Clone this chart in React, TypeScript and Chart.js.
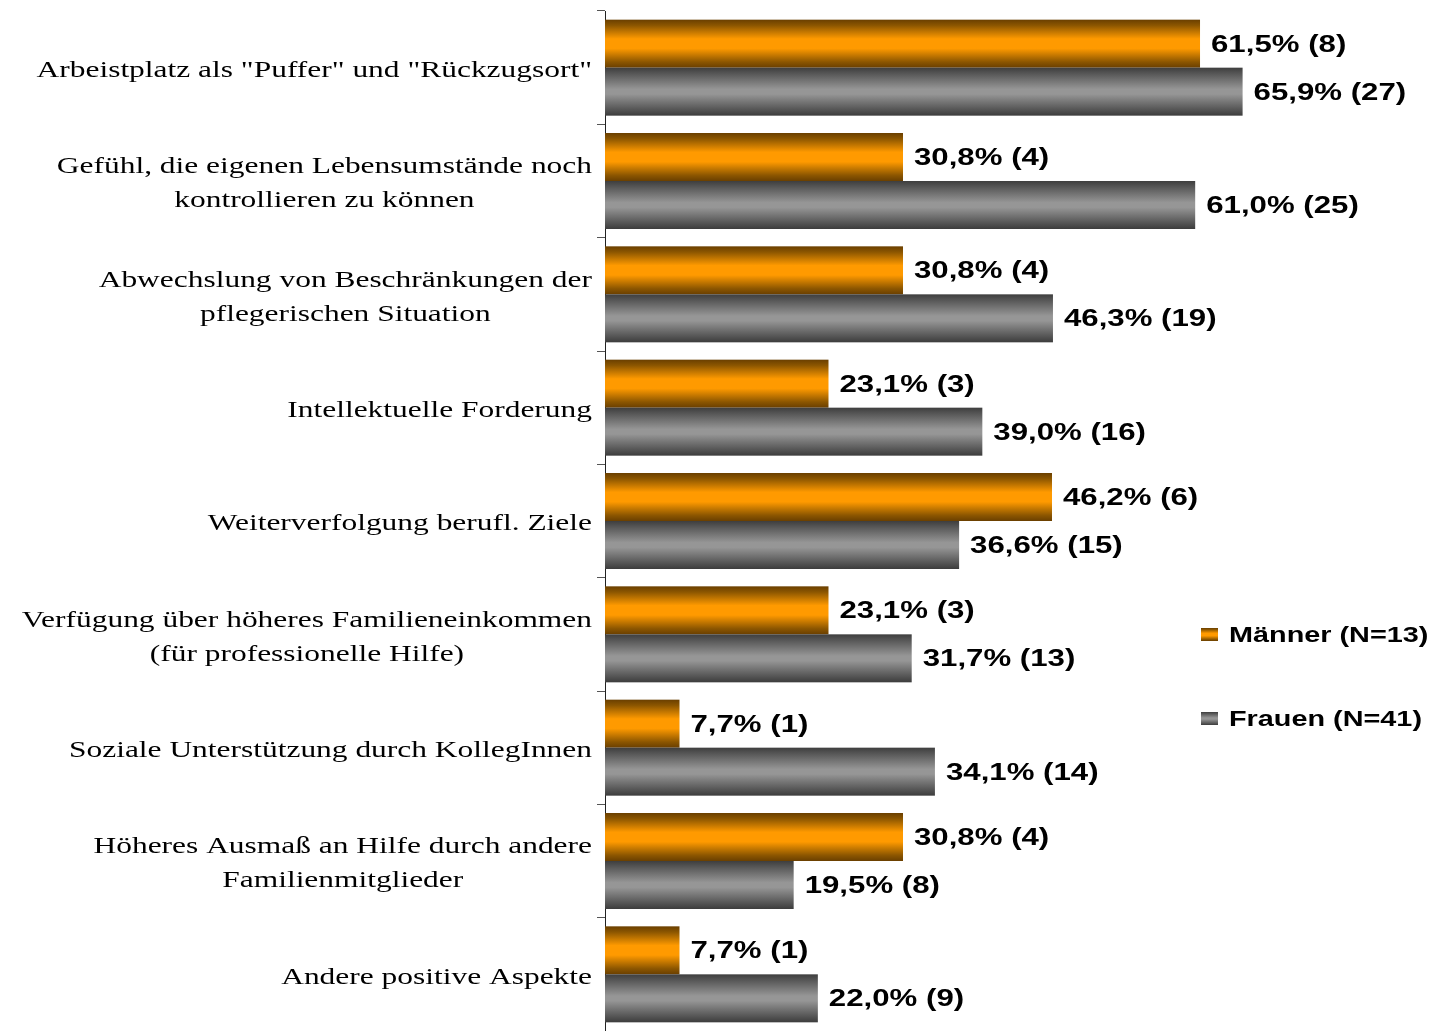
import React, { useEffect, useRef } from "react";
import { Chart, registerables } from "chart.js";

Chart.register(...registerables);

const categories: string[][] = [
  ['Arbeistplatz als "Puffer" und "Rückzugsort"'],
  ["Gefühl, die eigenen Lebensumstände noch", "kontrollieren zu können"],
  ["Abwechslung von Beschränkungen der", "pflegerischen Situation"],
  ["Intellektuelle Forderung"],
  ["Weiterverfolgung berufl. Ziele"],
  ["Verfügung über höheres Familieneinkommen", "(für professionelle Hilfe)"],
  ["Soziale Unterstützung durch KollegInnen"],
  ["Höheres Ausmaß an Hilfe durch andere", "Familienmitglieder"],
  ["Andere positive Aspekte"],
];

const seriesNames = ["Männer (N=13)", "Frauen (N=41)"];
const menPct = [61.5, 30.8, 30.8, 23.1, 46.2, 23.1, 7.7, 30.8, 7.7];
const menN = [8, 4, 4, 3, 6, 3, 1, 4, 1];
const womenPct = [65.9, 61.0, 46.3, 39.0, 36.6, 31.7, 34.1, 19.5, 22.0];
const womenN = [27, 25, 19, 16, 15, 13, 14, 8, 9];

const counts = [menN, womenN];

const fmt = (v: number, n: number) => v.toFixed(1).replace(".", ",") + "% (" + n + ")";

const W = 1433;
const H = 1031;
const LABEL_SX = 1.31;
const VALUE_SX = 1.3;

function makeGrad(ctx: CanvasRenderingContext2D, top: number, bottom: number, ds: number) {
  const g = ctx.createLinearGradient(0, top, 0, bottom);
  if (ds === 0) {
    g.addColorStop(0, "#6a3f00");
    g.addColorStop(0.12, "#8c5600");
    g.addColorStop(0.4, "#ff9a00");
    g.addColorStop(0.6, "#ff9a00");
    g.addColorStop(0.88, "#8c5600");
    g.addColorStop(1, "#6a3f00");
  } else {
    g.addColorStop(0, "#3e3e3e");
    g.addColorStop(0.15, "#5c5c5c");
    g.addColorStop(0.45, "#969696");
    g.addColorStop(0.55, "#969696");
    g.addColorStop(0.85, "#5a5a5a");
    g.addColorStop(1, "#3c3c3c");
  }
  return g;
}

const customDraw = {
  id: "customDraw",
  afterDatasetsDraw(chart: any) {
    const ctx: CanvasRenderingContext2D = chart.ctx;
    chart.data.datasets.forEach((_ds: any, di: number) => {
      const meta = chart.getDatasetMeta(di);
      meta.data.forEach((el: any, i: number) => {
        const p = el.getProps(["x", "y", "base", "height"], true);
        const top = p.y - p.height / 2;
        const bottom = p.y + p.height / 2;
        ctx.save();
        ctx.fillStyle = makeGrad(ctx, top, bottom, di);
        ctx.fillRect(p.base, top, p.x - p.base, p.height);
        ctx.restore();
        const v = chart.data.datasets[di].data[i];
        ctx.save();
        ctx.font = "bold 24px 'Liberation Sans', Arial, sans-serif";
        ctx.fillStyle = "#000";
        ctx.textBaseline = "middle";
        ctx.textAlign = "left";
        ctx.translate(p.x + 11, p.y + 1.5);
        ctx.scale(VALUE_SX, 1);
        ctx.fillText(fmt(v, counts[di][i]), 0, 0);
        ctx.restore();
      });
    });
  },
  afterDraw(chart: any) {
    const ctx: CanvasRenderingContext2D = chart.ctx;
    const yScale = chart.scales.y;
    ctx.save();
    ctx.font = "24px 'Liberation Serif', 'Times New Roman', serif";
    ctx.fillStyle = "#000";
    ctx.textBaseline = "middle";
    ctx.textAlign = "center";
    categories.forEach((lines, i) => {
      const yc = yScale.getPixelForValue(i);
      const widths = lines.map((l) => ctx.measureText(l).width * LABEL_SX);
      const bw = Math.max(...widths);
      const cx = 592 - bw / 2;
      const lh = 34;
      const start = yc - ((lines.length - 1) * lh) / 2 + 3;
      lines.forEach((l, k) => {
        ctx.save();
        ctx.translate(cx, start + k * lh);
        ctx.scale(LABEL_SX, 1);
        ctx.fillText(l, 0, 0);
        ctx.restore();
      });
    });
    ctx.restore();
    const legY = [634, 718];
    seriesNames.forEach((name, di) => {
      const y = legY[di];
      ctx.save();
      ctx.fillStyle = makeGrad(ctx, y - 6, y + 7, di);
      ctx.fillRect(1201, y - 6, 17, 13);
      ctx.font = "bold 22px 'Liberation Sans', Arial, sans-serif";
      ctx.fillStyle = "#000";
      ctx.textBaseline = "middle";
      ctx.textAlign = "left";
      ctx.translate(1229, y + 2);
      ctx.scale(VALUE_SX + 0.01, 1);
      ctx.fillText(name, 0, 0);
      ctx.restore();
    });
  },
};

export default function App() {
  const ref = useRef<HTMLCanvasElement | null>(null);
  useEffect(() => {
    if (!ref.current) return;
    const chart = new Chart(ref.current, {
      type: "bar",
      data: {
        labels: categories.map((c) => c.join(" ")),
        datasets: [
          { label: seriesNames[0], data: menPct, backgroundColor: "rgba(0,0,0,0)", borderWidth: 0 },
          { label: seriesNames[1], data: womenPct, backgroundColor: "rgba(0,0,0,0)", borderWidth: 0 },
        ],
      },
      options: {
        indexAxis: "y",
        responsive: false,
        animation: false,
        maintainAspectRatio: false,
        layout: { padding: { top: 11, bottom: 0, left: 0, right: 0 } },
        datasets: { bar: { categoryPercentage: 0.847, barPercentage: 1 } },
        plugins: { legend: { display: false }, tooltip: { enabled: false } },
        scales: {
          x: { display: false, min: 0, max: 85.58 },
          y: {
            afterFit: (s: any) => {
              s.width = 605;
            },
            ticks: { display: false },
            grid: {
              drawOnChartArea: false,
              drawTicks: true,
              tickLength: 8,
              color: "#555",
              offset: true,
            },
            border: { display: true, color: "#222", width: 1 },
          },
        },
      },
      plugins: [customDraw],
    });
    return () => chart.destroy();
  }, []);
  return (
    <div style={{ position: "fixed", left: 0, top: 0, width: W, height: H, background: "#fff" }}>
      <canvas ref={ref} width={W} height={H} style={{ width: W, height: H, display: "block" }} />
    </div>
  );
}
